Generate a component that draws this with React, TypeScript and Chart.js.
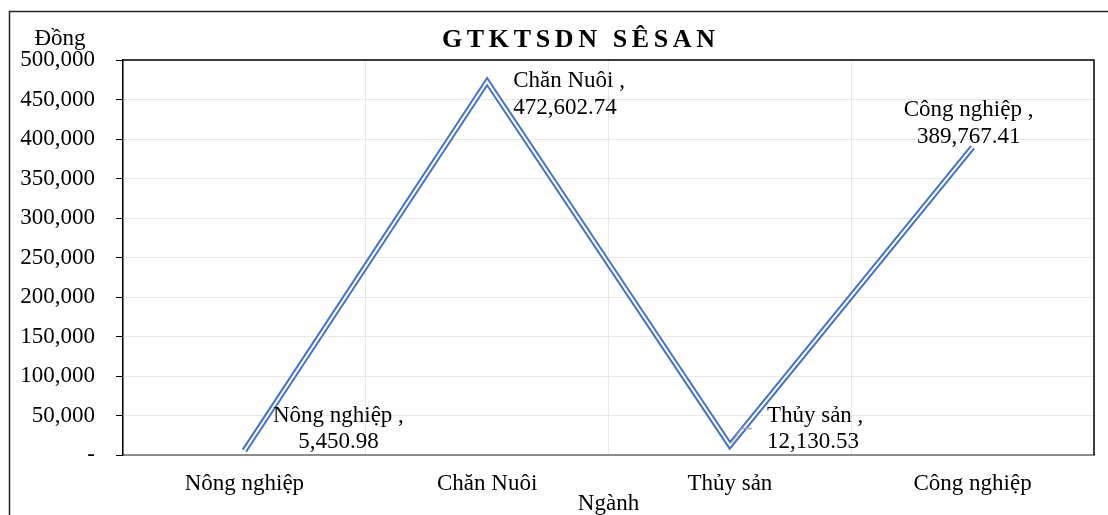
import React, { useEffect, useRef } from "react";
import { Chart, registerables } from "chart.js";

Chart.register(...registerables);

const categories = ["Nông nghiệp", "Chăn Nuôi", "Thủy sản", "Công nghiệp"];
const values = [5450.98, 472602.74, 12130.53, 389767.41];
const valueLabels = ["5,450.98", "472,602.74", "12,130.53", "389,767.41"];
const chartTitle = "GTKTSDN SÊSAN";
const yTitle = "Đồng";
const xTitle = "Ngành";

const FONT = "'Liberation Serif', 'Times New Roman', serif";
const BLUE = "#4472C4";

// label placement relative to each point: [dx, dy line1, dy line2, align]
const labelOffsets: [number, number, number, CanvasTextAlign][] = [
  [94, -29, -3, "center"],
  [26, 5, 32, "left"],
  [37, -23, 3, "left"],
  [-4, -31, -4, "center"],
];

const overlayPlugin = {
  id: "overlay",
  afterDraw(chart: any) {
    const ctx = chart.ctx as CanvasRenderingContext2D;
    const area = chart.chartArea;
    ctx.save();
    // outer chart border
    ctx.strokeStyle = "#222";
    ctx.lineWidth = 1.5;
    ctx.beginPath();
    ctx.moveTo(9.5, 600);
    ctx.lineTo(9.5, 11.5);
    ctx.lineTo(1200, 11.5);
    ctx.stroke();
    // plot area top & right border
    ctx.strokeStyle = "#000";
    ctx.lineWidth = 1.5;
    ctx.beginPath();
    ctx.moveTo(area.left, area.top);
    ctx.lineTo(area.right, area.top);
    ctx.lineTo(area.right, area.bottom);
    ctx.stroke();

    // title with letter spacing
    ctx.fillStyle = "#000";
    ctx.font = `bold 26px ${FONT}`;
    ctx.textAlign = "left";
    ctx.textBaseline = "alphabetic";
    const w0 = ctx.measureText(chartTitle).width;
    const chars = Array.from(chartTitle);
    const spacing = (273 - w0) / (chars.length - 1);
    let x = 442;
    for (const ch of chars) {
      ctx.fillText(ch, x, 47);
      x += ctx.measureText(ch).width + spacing;
    }

    // axis titles
    ctx.font = `23px ${FONT}`;
    ctx.textAlign = "center";
    ctx.fillText(yTitle, 60, 45);
    ctx.fillText(xTitle, (area.left + area.right) / 2, 510);

    // data labels
    const meta = chart.getDatasetMeta(0);
    meta.data.forEach((pt: any, i: number) => {
      const [dx, dy1, dy2, align] = labelOffsets[i];
      ctx.textAlign = align;
      ctx.fillText(categories[i] + " ,", pt.x + dx, pt.y + dy1);
      ctx.fillText(valueLabels[i], pt.x + dx, pt.y + dy2);
    });

    // leader line for Thủy sản
    const p = meta.data[2];
    if (p) {
      ctx.strokeStyle = "#a6a6a6";
      ctx.lineWidth = 1.5;
      ctx.beginPath();
      ctx.moveTo(p.x + 1, p.y - 2);
      ctx.lineTo(p.x + 12, p.y - 17);
      ctx.lineTo(p.x + 22, p.y - 17);
      ctx.stroke();
    }
    ctx.restore();
  },
};

export default function App() {
  const ref = useRef<HTMLCanvasElement>(null);
  useEffect(() => {
    document.body.style.overflow = "hidden";
    const chart = new Chart(ref.current!, {
      type: "line",
      data: {
        labels: categories,
        datasets: [
          {
            data: values,
            borderColor: "#ffffff",
            borderWidth: 2,
            pointRadius: 0,
            borderJoinStyle: "miter",
            borderCapStyle: "butt",
            tension: 0,
            order: 0,
          },
          {
            data: values,
            borderColor: BLUE,
            borderWidth: 6,
            pointRadius: 0,
            borderJoinStyle: "miter",
            borderCapStyle: "butt",
            tension: 0,
            order: 1,
          },
        ],
      },
      options: {
        responsive: false,
        animation: false,
        events: [],
        layout: { padding: { left: 0, right: 14, top: 60, bottom: 0 } },
        plugins: {
          legend: { display: false },
          tooltip: { enabled: false },
          title: { display: false },
        },
        scales: {
          x: {
            offset: true,
            grid: { offset: true, color: "#e8e8e8", drawTicks: false },
            border: { color: "#8c8c8c", width: 2 },
            ticks: { font: { family: FONT, size: 23 }, color: "#000", padding: 15, maxRotation: 0 },
            afterFit: (s: any) => {
              s.height = 60;
            },
          },
          y: {
            min: 0,
            max: 500000,
            grid: { color: "#e8e8e8", tickColor: "#000", tickLength: 7 },
            border: { color: "#000", width: 1.5 },
            ticks: {
              stepSize: 50000,
              font: { family: FONT, size: 23 },
              color: "#000",
              padding: 21,
              callback: (v: any) => (v === 0 ? "-" : Number(v).toLocaleString("en-US")),
            },
            afterFit: (s: any) => {
              s.width = 123;
            },
          },
        },
      },
      plugins: [overlayPlugin],
    });
    return () => chart.destroy();
  }, []);
  return (
    <div style={{ position: "absolute", left: 0, top: 0, width: 1108, height: 515, background: "#fff" }}>
      <canvas ref={ref} width={1108} height={515} />
    </div>
  );
}
